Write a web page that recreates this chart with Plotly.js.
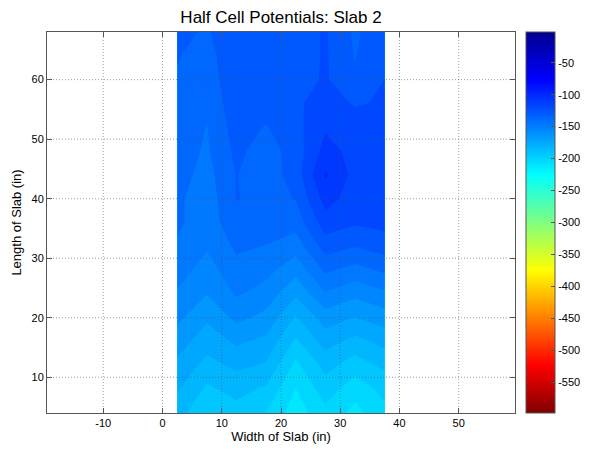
<!DOCTYPE html>
<html>
<head>
<meta charset="utf-8">
<script src="https://cdn.plot.ly/plotly-3.0.1.min.js"></script>
<style>html,body{margin:0;padding:0;background:#fff;}#chart{width:597px;height:449px;}</style>
</head>
<body>
<div id="chart"></div>
<script>
// Grid positions (inches)
const widthPos = [2.5, 7.5, 12.5, 17.5, 22.5, 27.5, 32.5, 37.5];
const lengthPos = [4, 8, 12, 16, 20, 24, 28, 32, 36, 40, 44, 48, 52, 56, 60, 64, 68];

// Half cell potentials (mV), one row per length position, columns follow widthPos
const row04 = [-185, -195, -192, -198, -212, -200, -210, -200];
const row08 = [-178, -190, -185, -190, -207, -193, -203, -195];
const row12 = [-172, -182, -177, -180, -200, -185, -193, -186];
const row16 = [-165, -175, -168, -172, -190, -175, -182, -176];
const row20 = [-158, -168, -158, -163, -180, -165, -170, -165];
const row24 = [-152, -160, -150, -155, -168, -152, -158, -153];
const row28 = [-147, -155, -145, -148, -157, -140, -145, -140];
const row32 = [-143, -150, -140, -142, -147, -128, -132, -128];
const row36 = [-140, -147, -135, -137, -138, -118, -122, -120];
const row40 = [-140, -147, -132, -135, -132, -110, -118, -118];
const row44 = [-138, -145, -132, -138, -128, -103, -117, -118];
const row48 = [-137, -143, -130, -137, -128, -110, -117, -118];
const row52 = [-136, -142, -128, -133, -126, -115, -118, -120];
const row56 = [-135, -140, -126, -128, -125, -118, -124, -122];
const row60 = [-133, -137, -126, -127, -127, -122, -130, -123];
const row64 = [-132, -135, -127, -127, -128, -122, -133, -124];
const row68 = [-131, -133, -128, -128, -128, -122, -134, -125];

const potentials = [row04, row08, row12, row16, row20, row24, row28, row32, row36,
                    row40, row44, row48, row52, row56, row60, row64, row68];

const xTicks = [-10, 0, 10, 20, 30, 40, 50];
const yTicks = [10, 20, 30, 40, 50, 60];
const cbTicks = [-50, -100, -150, -200, -250, -300, -350, -400, -450, -500, -550];

const cMin = -598, cMax = -2;
const jetRev = [
  [0, 'rgb(128,0,0)'],
  [0.125, 'rgb(255,0,0)'],
  [0.375, 'rgb(255,255,0)'],
  [0.625, 'rgb(0,255,255)'],
  [0.875, 'rgb(0,0,255)'],
  [1, 'rgb(0,0,143)']
];

const font = 'Liberation Sans, Arial, sans-serif';

const contourTrace = {
  type: 'contour',
  x: widthPos,
  y: lengthPos,
  z: potentials,
  colorscale: jetRev,
  zauto: false,
  zmin: cMin,
  zmax: cMax,
  autocontour: false,
  contours: {coloring: 'fill', start: -598, end: -2, size: 9.3125, showlines: false},
  line: {width: 0, smoothing: 0},
  showscale: false,
  hoverinfo: 'skip'
};

const scaleTrace = {
  type: 'scatter',
  x: [null],
  y: [null],
  mode: 'markers',
  showlegend: false,
  hoverinfo: 'skip',
  marker: {
    color: [cMin],
    cmin: cMin,
    cmax: cMax,
    colorscale: jetRev,
    showscale: true,
    colorbar: {
      x: 1.023, xanchor: 'left', xpad: 0,
      y: 0.5, yanchor: 'middle', ypad: 0,
      len: 1, lenmode: 'fraction',
      thickness: 29,
      outlinecolor: '#555', outlinewidth: 1,
      tickvals: cbTicks,
      ticktext: cbTicks.map(String),
      ticks: 'inside', ticklen: 4, tickcolor: '#555',
      tickfont: {family: font, size: 11, color: '#000'}
    }
  }
};

const gridShapes = [];
xTicks.forEach(v => gridShapes.push({type: 'line', xref: 'x', yref: 'paper', x0: v, x1: v, y0: 0, y1: 1,
  layer: 'above', line: {color: 'rgba(80,80,80,0.55)', width: 1, dash: '1px,2px'}}));
yTicks.forEach(v => gridShapes.push({type: 'line', xref: 'paper', yref: 'y', x0: 0, x1: 1, y0: v, y1: v,
  layer: 'above', line: {color: 'rgba(80,80,80,0.55)', width: 1, dash: '1px,2px'}}));

const axisCommon = {
  showgrid: false, zeroline: false,
  showline: true, linecolor: '#555', linewidth: 1, mirror: 'ticks',
  ticks: 'inside', ticklen: 5, tickcolor: '#555',
  tickfont: {family: font, size: 11, color: '#000'}
};

const layout = {
  width: 597, height: 449,
  margin: {l: 47, r: 79, t: 32, b: 36},
  paper_bgcolor: '#fff', plot_bgcolor: '#fff',
  showlegend: false,
  title: {text: 'Half Cell Potentials: Slab 2', font: {family: font, size: 17, color: '#000'},
          x: 0.5, xref: 'paper', xanchor: 'center', y: 0.962, yref: 'container', yanchor: 'middle'},
  xaxis: Object.assign({}, axisCommon, {
    range: [-19.5, 59.5], tickvals: xTicks, ticktext: xTicks.map(String),
    title: {text: 'Width of Slab (in)', font: {family: font, size: 13, color: '#000'}, standoff: 3}
  }),
  yaxis: Object.assign({}, axisCommon, {
    range: [4, 68], tickvals: yTicks, ticktext: yTicks.map(String),
    title: {text: 'Length of Slab (in)', font: {family: font, size: 13, color: '#000'}, standoff: 6}
  }),
  shapes: gridShapes
};

Plotly.newPlot('chart', [contourTrace, scaleTrace], layout, {displayModeBar: false, staticPlot: true});
</script>
</body>
</html>
